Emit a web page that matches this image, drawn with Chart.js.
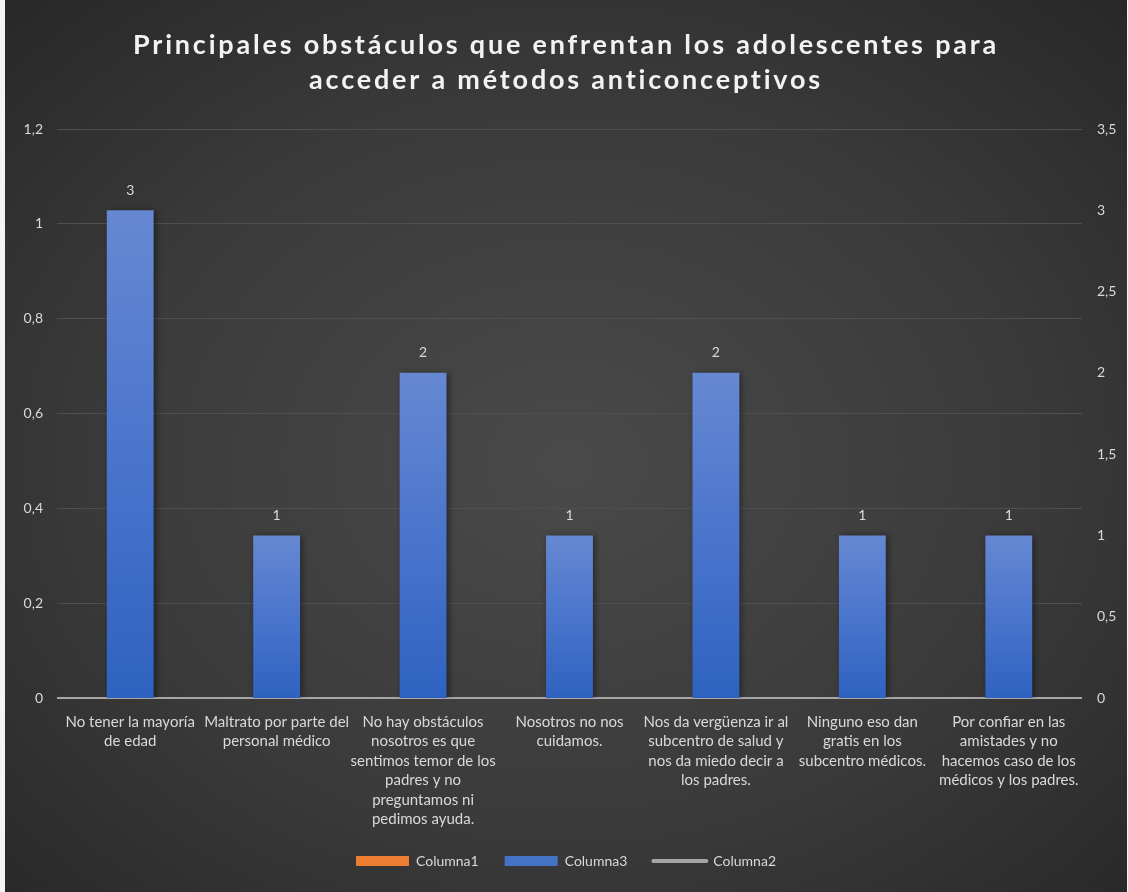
<!DOCTYPE html>
<html>
<head>
<meta charset="utf-8">
<script src="https://cdn.jsdelivr.net/npm/chart.js@4/dist/chart.umd.min.js"></script>
<style>
    html, body { margin: 0; padding: 0; background: #f4f4f4; }
    #wrap {
        position: absolute; left: 5px; top: 0;
        width: 1122px; height: 892px;
        background: radial-gradient(ellipse 75% 75% at 50% 52%, #4a4a4a 0%, #3a3a3a 55%, #262626 100%);
    }
</style>
</head>
<body>
<div id="wrap"><canvas id="chart"></canvas></div>
<script>
// Datos del gráfico
const titleLines = ['Principales obstáculos que enfrentan los adolescentes para', 'acceder a métodos anticonceptivos'];
const categories = [
    ['No tener la mayoría', 'de edad'],
    ['Maltrato por parte del', 'personal médico'],
    ['No hay obstáculos', 'nosotros es que', 'sentimos temor de los', 'padres y no', 'preguntamos ni', 'pedimos ayuda.'],
    ['Nosotros no nos', 'cuidamos.'],
    ['Nos da vergüenza ir al', 'subcentro de salud y', 'nos da miedo decir a', 'los padres.'],
    ['Ninguno eso dan', 'gratis en los', 'subcentro médicos.'],
    ['Por confiar en las', 'amistades y no', 'hacemos caso de los', 'médicos y los padres.']
];
const columna1 = [null, null, null, null, null, null, null];
const columna3 = [3, 1, 2, 1, 2, 1, 1];
const columna2 = [null, null, null, null, null, null, null];
const leftTicks = [0, 0.2, 0.4, 0.6, 0.8, 1, 1.2];
const rightTicks = [0, 0.5, 1, 1.5, 2, 2.5, 3, 3.5];

const FONT = 'Lato, "Open Sans", sans-serif';
const TEXT = '#d9d9d9';
const legendColors = ['#ed7d31', '#4472c4', '#a5a5a5'];

const comma = v => String(v).replace('.', ',');

// Degradado vertical por barra (claro arriba, oscuro abajo)
function barGradient(ctx) {
    const chart = ctx.chart;
    const ys = chart.scales.y2;
    if (!chart.chartArea || !ys || ctx.raw == null) return '#4472c4';
    const top = ys.getPixelForValue(ctx.raw);
    const bottom = ys.getPixelForValue(0);
    const g = chart.ctx.createLinearGradient(0, top, 0, bottom);
    g.addColorStop(0, '#6688d2');
    g.addColorStop(0.5, '#4a75cc');
    g.addColorStop(1, '#2f62c0');
    return g;
}

// Título con espaciado entre letras
const titlePlugin = {
    id: 'spacedTitle',
    afterDraw(chart) {
        const ctx = chart.ctx;
        ctx.save();
        ctx.font = 'bold 27px ' + FONT;
        ctx.fillStyle = '#f2f2f2';
        ctx.textAlign = 'center';
        ctx.textBaseline = 'middle';
        ctx.letterSpacing = '2.8px';
        titleLines.forEach((line, i) => {
            ctx.fillText(line, chart.width / 2, 45 + i * 35);
        });
        ctx.restore();
    }
};

// Sombra ligera bajo las barras
const shadowPlugin = {
    id: 'barShadow',
    beforeDatasetsDraw(chart) {
        const ctx = chart.ctx;
        ctx.save();
        ctx.shadowColor = 'rgba(0,0,0,0.45)';
        ctx.shadowBlur = 6;
        ctx.shadowOffsetX = 2;
        ctx.shadowOffsetY = 1;
    },
    afterDatasetsDraw(chart) {
        chart.ctx.restore();
    }
};

// Etiquetas de valor encima de cada barra
const valueLabels = {
    id: 'valueLabels',
    afterDatasetsDraw(chart) {
        const ctx = chart.ctx;
        const meta = chart.getDatasetMeta(1);
        ctx.save();
        ctx.font = '14px ' + FONT;
        ctx.fillStyle = TEXT;
        ctx.textAlign = 'center';
        ctx.textBaseline = 'middle';
        meta.data.forEach((bar, i) => {
            ctx.fillText(String(columna3[i]), bar.x, bar.y - 20);
        });
        ctx.restore();
    }
};

new Chart(document.getElementById('chart'), {
    type: 'bar',
    data: {
        labels: categories,
        datasets: [
            {
                label: 'Columna1',
                data: columna1,
                backgroundColor: '#ed7d31',
                yAxisID: 'y',
                grouped: false,
                order: 2
            },
            {
                label: 'Columna3',
                data: columna3,
                backgroundColor: barGradient,
                yAxisID: 'y2',
                grouped: false,
                order: 1
            },
            {
                type: 'line',
                label: 'Columna2',
                data: columna2,
                borderColor: '#a5a5a5',
                borderWidth: 3,
                pointRadius: 0,
                yAxisID: 'y',
                order: 0
            }
        ]
    },
    options: {
        responsive: true,
        maintainAspectRatio: false,
        animation: false,
        datasets: {
            bar: { categoryPercentage: 1, barPercentage: 0.32 }
        },
        layout: {
            padding: { top: 129, left: 0, right: 0, bottom: 14 }
        },
        plugins: {
            title: { display: false },
            tooltip: { enabled: false },
            legend: {
                display: true,
                position: 'bottom',
                labels: {
                    color: TEXT,
                    font: { family: FONT, size: 14 },
                    usePointStyle: true,
                    pointStyleWidth: 53,
                    boxHeight: 10,
                    padding: 26,
                    generateLabels: chart => chart.data.datasets.map((ds, i) => ({
                        text: ds.label,
                        fillStyle: legendColors[i],
                        strokeStyle: legendColors[i],
                        fontColor: TEXT,
                        lineWidth: i === 2 ? 4 : 0,
                        lineCap: 'round',
                        pointStyle: i === 2 ? 'line' : 'rect',
                        hidden: false,
                        datasetIndex: i
                    }))
                }
            }
        },
        scales: {
            x: {
                grid: { display: false },
                border: { display: false },
                ticks: {
                    color: TEXT,
                    font: { family: FONT, size: 15, lineHeight: 1.3 },
                    padding: 6,
                    maxRotation: 0,
                    autoSkip: false
                },
                afterFit: s => { s.height = 130; }
            },
            y: {
                position: 'left',
                min: 0,
                max: 1.2,
                afterBuildTicks: s => { s.ticks = leftTicks.map(v => ({ value: v })); },
                grid: {
                    drawTicks: false,
                    color: c => c.tick && c.tick.value === 0 ? '#a6a6a6' : '#4f4f4f',
                    lineWidth: c => c.tick && c.tick.value === 0 ? 2 : 1
                },
                border: { display: false },
                ticks: {
                    color: TEXT,
                    font: { family: FONT, size: 14 },
                    padding: 14,
                    callback: v => comma(v)
                },
                afterFit: s => { s.width = 52; }
            },
            y2: {
                position: 'right',
                min: 0,
                max: 3.5,
                afterBuildTicks: s => { s.ticks = rightTicks.map(v => ({ value: v })); },
                grid: { display: false, drawTicks: false },
                border: { display: false },
                ticks: {
                    color: TEXT,
                    font: { family: FONT, size: 14 },
                    padding: 15,
                    callback: v => comma(v)
                },
                afterFit: s => { s.width = 45; }
            }
        }
    },
    plugins: [shadowPlugin, valueLabels, titlePlugin]
});
</script>
</body>
</html>
